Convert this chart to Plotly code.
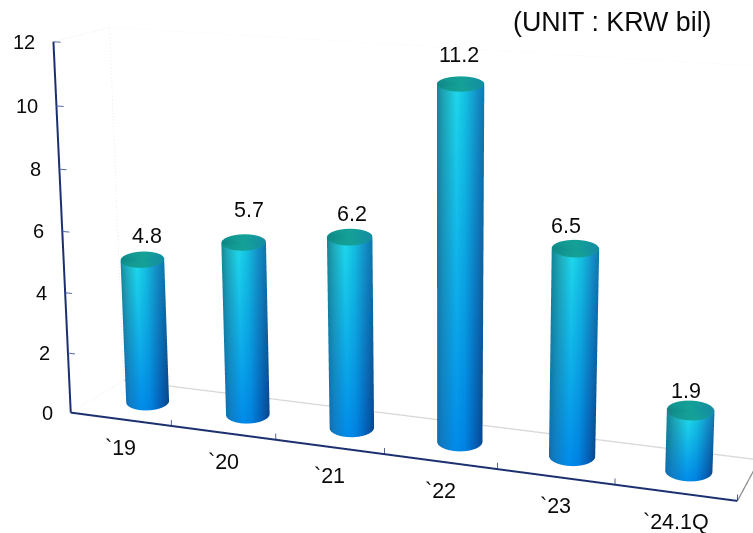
import numpy as np
import plotly.graph_objects as go

W, H = 753, 533

categories = ["`19", "`20", "`21", "`22", "`23", "`24.1Q"]
values = [4.8, 5.7, 6.2, 11.2, 6.5, 1.9]
ticks = [0, 2, 4, 6, 8, 10, 12]
unit_label = "(UNIT : KRW bil)"

# Camera: a shallow downward view, slightly rolled.
PITCH, ROLL, CAM_Z, CAM_DIST = 0.0792, 0.0081, -0.0860, 1.5
VALUE_SCALE = 0.0754  # scene height of one value unit

# Box geometry: maps (category position, depth 0..1, value) into the scene,
# so the floor falls to the right and recedes up and to the right.
X0, X_PER_CAT, X_PER_DEPTH = -0.7672, 0.2608, 0.0997
Y0, Y_PER_CAT, Y_PER_DEPTH = 0.0795, -0.0319, 0.0893
Z_PER_CAT, Z_PER_DEPTH = -0.3399, 0.7692
BAR_DEPTH, BAR_OFFSET = 0.525, -0.0033


def place(cat, depth, value):
    return (
        X0 + X_PER_CAT * cat + X_PER_DEPTH * depth,
        Y0 + Y_PER_CAT * cat + Y_PER_DEPTH * depth,
        value + Z_PER_CAT * cat + Z_PER_DEPTH * depth,
    )


# Cylinder shading: colour stops across the width, at the top and foot of a bar.
STOPS_U = [-1, -0.75, -0.2, 0.2, 0.7, 1]
TOP_RGB = np.array([(20, 135, 150), (30, 165, 180), (30, 215, 235), (20, 190, 225), (20, 142, 197), (15, 120, 175)], float)
FOOT_RGB = np.array([(15, 110, 180), (15, 125, 200), (0, 140, 235), (0, 130, 225), (5, 92, 178), (10, 70, 138)], float)
CAP_RGB = np.array([(15, 135, 135), (18, 150, 145), (20, 160, 150), (20, 160, 152), (20, 150, 160), (20, 140, 165)], float)


def shade(rgb, u):
    return "rgb(%d,%d,%d)" % tuple(np.interp(u, STOPS_U, rgb[:, k]) for k in range(3))


RADIUS_X, RADIUS_Y, RADIUS_Z = 0.0545, 0.012, 0.26
FLAT = dict(ambient=1, diffuse=0, specular=0, fresnel=0, roughness=1)
SEGMENTS = 48
front_arc = np.linspace(np.pi, 2 * np.pi, SEGMENTS + 1)
full_ring = np.linspace(0, 2 * np.pi, 2 * SEGMENTS, endpoint=False)

fig = go.Figure()

for pos, value in enumerate(values):
    bx, by, bz = place(pos + 0.5 + BAR_OFFSET, BAR_DEPTH, 0)

    # Side wall
    x = bx + RADIUS_X * np.cos(front_arc)
    y = by + RADIUS_Y * np.sin(front_arc)
    dz = RADIUS_Z * np.sin(front_arc)
    across = np.cos(front_arc)
    m = len(front_arc)
    ii, jj, kk = [], [], []
    for a in range(m - 1):
        ii += [a, a + 1]
        jj += [a + 1, a + 1 + m]
        kk += [a + m, a + m]
    fig.add_trace(go.Mesh3d(
        x=np.r_[x, x], y=np.r_[y, y], z=np.r_[bz + dz, bz + value + dz],
        i=ii, j=jj, k=kk,
        vertexcolor=[shade(FOOT_RGB, u) for u in across] + [shade(TOP_RGB, u) for u in across],
        hoverinfo="skip", lighting=FLAT,
    ))

    # Top cap
    rx = bx + RADIUS_X * np.cos(full_ring)
    ry = by + RADIUS_Y * np.sin(full_ring)
    rz = bz + value + RADIUS_Z * np.sin(full_ring)
    n = len(full_ring)
    fig.add_trace(go.Mesh3d(
        x=np.r_[bx, rx], y=np.r_[by, ry], z=np.r_[bz + value, rz],
        i=[0] * n, j=[1 + a for a in range(n)], k=[1 + (a + 1) % n for a in range(n)],
        vertexcolor=[shade(CAP_RGB, 0)] + [shade(CAP_RGB, u) for u in np.cos(full_ring)],
        hoverinfo="skip", lighting=FLAT,
    ))


def segments(pairs, color, width, dash="solid"):
    x, y, z = [], [], []
    for start, end in pairs:
        a, b = place(*start), place(*end)
        x += [a[0], b[0], None]
        y += [a[1], b[1], None]
        z += [a[2], b[2], None]
    fig.add_trace(go.Scatter3d(
        x=x, y=y, z=z, mode="lines",
        line=dict(color=color, width=width, dash=dash),
        hoverinfo="skip", showlegend=False,
    ))


n_cat = len(categories)
top = ticks[-1]
NAVY = "rgb(28,48,112)"

# Back floor edge, box outline, then the two main axes and their ticks
segments([((0, 1, 0), (n_cat, 1, 0))], "rgb(216,214,214)", 2.5)
segments([((n_cat, 0, 0), (n_cat, 1, 0))], "rgb(140,140,140)", 2.5)
segments(
    [((0, 0, 0), (0, 1, 0)), ((0, 1, 0), (0, 1, top)), ((0, 0, top), (0, 1, top))],
    "rgb(232,232,232)", 1.5, "dot",
)
segments([((0, 1, top), (n_cat, 1, top))], "rgb(244,244,244)", 1.5, "dot")
segments([((0, 0, 0), (n_cat, 0, 0)), ((0, 0, 0), (0, 0, top))], NAVY, 4)
segments([((c, 0, 0), (c, 0, 0.2)) for c in range(1, n_cat + 1)], NAVY, 1.5)
segments([((0, 0, t), (0.07, 0, t)) for t in ticks[1:]], "rgb(85,105,165)", 2)

TICK_FONT = dict(family="Liberation Sans", size=20, color="#0a0a0a")
LABEL_FONT = dict(family="Liberation Sans", size=21.5, color="#0a0a0a")
value_nudge = [(5, 24), (5, 32), (2, 23), (-2, 29), (-9, 23), (-5, 19)]
texts = []
for pos, (name, value) in enumerate(zip(categories, values)):
    ax, ay, az = place(pos + 0.5, 0, 0)
    texts.append(dict(x=ax, y=ay, z=az, text=name, showarrow=False, yshift=-29, font=LABEL_FONT))
    vx, vy, vz = place(pos + 0.5 + BAR_OFFSET, BAR_DEPTH, value)
    texts.append(dict(x=vx, y=vy, z=vz, text=str(value), showarrow=False,
                      xshift=value_nudge[pos][0], yshift=value_nudge[pos][1], font=LABEL_FONT))
for t in ticks:
    tx, ty, tz = place(0, 0, t)
    texts.append(dict(x=tx, y=ty, z=tz, text=str(t), showarrow=False, xanchor="right", xshift=-16, font=TICK_FONT))

eye_z = CAM_Z + CAM_DIST * np.sin(PITCH)
fig.update_layout(
    width=W, height=H, margin=dict(l=0, r=0, t=0, b=0),
    paper_bgcolor="white", showlegend=False,
    annotations=[dict(
        x=714 / W, y=1 - 22 / H, xref="paper", yref="paper",
        text=unit_label, showarrow=False, xanchor="right", yanchor="middle",
        font=dict(family="Liberation Sans", size=26.8, color="#0a0a0a"),
    )],
    scene=dict(
        dragmode="orbit",
        domain=dict(x=[0, 1], y=[0, 1]),
        xaxis=dict(range=[-1.5, 1.5], visible=False),
        yaxis=dict(range=[-1.5, 1.5], visible=False),
        zaxis=dict(range=[-6, 18], visible=False),
        aspectmode="manual",
        aspectratio=dict(x=3, y=3, z=24 * VALUE_SCALE),
        annotations=texts,
        camera=dict(
            eye=dict(x=0, y=float(-CAM_DIST * np.cos(PITCH)), z=float(eye_z)),
            center=dict(x=0, y=0, z=CAM_Z),
            up=dict(x=float(np.sin(ROLL)), y=0, z=float(np.cos(ROLL))),
            projection=dict(type="perspective"),
        ),
    ),
)
fig.write_html("out.html")
